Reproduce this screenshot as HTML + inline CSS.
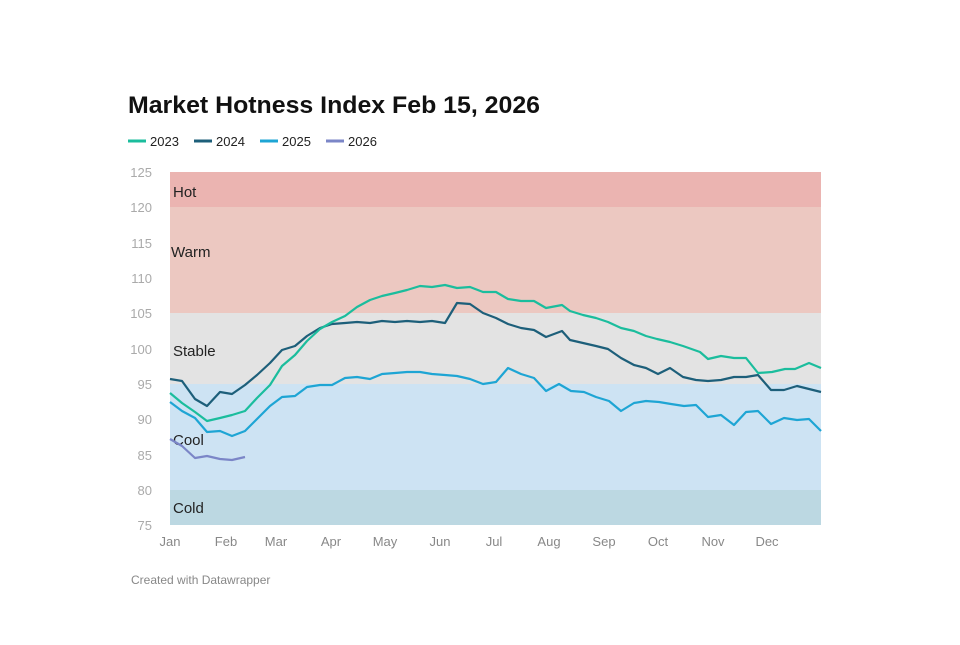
<!DOCTYPE html><html><head><style>body{margin:0;background:#fff;width:960px;height:640px;overflow:hidden}svg text{font-family:"Liberation Sans",sans-serif}</style></head><body>
<svg width="960" height="640" xmlns="http://www.w3.org/2000/svg">
<text x="128" y="113" font-size="24" font-weight="bold" fill="#111" textLength="412" lengthAdjust="spacingAndGlyphs">Market Hotness Index Feb 15, 2026</text>
<g font-size="13" fill="#222">
<line x1="128" y1="141" x2="146" y2="141" stroke="#1bbd9d" stroke-width="3"/><text x="150" y="146">2023</text>
<line x1="194" y1="141" x2="212" y2="141" stroke="#1d5f7a" stroke-width="3"/><text x="216" y="146">2024</text>
<line x1="260" y1="141" x2="278" y2="141" stroke="#1ea5d4" stroke-width="3"/><text x="282" y="146">2025</text>
<line x1="326" y1="141" x2="344" y2="141" stroke="#7b86c7" stroke-width="3"/><text x="348" y="146">2026</text>
</g>
<rect x="170" y="172" width="651" height="35" fill="#ebb4b1"/>
<rect x="170" y="207" width="651" height="106" fill="#ecc8c1"/>
<rect x="170" y="313" width="651" height="71" fill="#e3e3e3"/>
<rect x="170" y="384" width="651" height="106" fill="#cde3f3"/>
<rect x="170" y="490" width="651" height="35" fill="#bcd8e2"/>
<g font-size="15" fill="#222"><text x="173" y="197">Hot</text><text x="171" y="257">Warm</text><text x="173" y="356">Stable</text><text x="173" y="445">Cool</text><text x="173" y="513">Cold</text></g>
<g font-size="13" fill="#aaa" text-anchor="end">
<text x="152" y="177">125</text><text x="152" y="212">120</text><text x="152" y="248">115</text><text x="152" y="283">110</text><text x="152" y="318">105</text><text x="152" y="354">100</text><text x="152" y="389">95</text><text x="152" y="424">90</text><text x="152" y="460">85</text><text x="152" y="495">80</text><text x="152" y="530">75</text></g>
<g font-size="13" fill="#888" text-anchor="middle">
<text x="170" y="546">Jan</text><text x="226" y="546">Feb</text><text x="276" y="546">Mar</text><text x="331" y="546">Apr</text><text x="385" y="546">May</text><text x="440" y="546">Jun</text><text x="494" y="546">Jul</text><text x="549" y="546">Aug</text><text x="604" y="546">Sep</text><text x="658" y="546">Oct</text><text x="713" y="546">Nov</text><text x="767" y="546">Dec</text></g>
<g fill="none" stroke-width="2.2" stroke-linejoin="round">
<polyline stroke="#1ea5d4" points="170,402 182,411 195,418 207,432 220,431 232,436 245,431 257,419 270,406 282,397 295,396 307,387 320,385 332,385 345,378 357,377 370,379 382,374 395,373 407,372 420,372 432,374 445,375 457,376 470,379 483,384 496,382 508,368 521,374 534,378 546,391 559,384 571,391 584,392 596,397 609,401 621,411 634,403 646,401 659,402 671,404 684,406 696,405 708,417 721,415 734,425 746,412 758,411 771,424 784,418 797,420 809,419 821,431"/>
<polyline stroke="#1d5f7a" points="170,379 182,381 195,399 207,406 220,392 232,394 245,385 257,375 270,363 282,350 295,346 307,336 320,328 332,324 345,323 357,322 370,323 382,321 395,322 407,321 420,322 432,321 445,323 457,303 470,304 483,313 496,318 508,324 521,328 534,330 546,337 562,331 570,340 583,343 596,346 608,349 621,358 634,365 646,368 658,374 670,368 683,377 696,380 708,381 721,380 734,377 746,377 758,375 771,390 784,390 797,386 809,389 821,392"/>
<polyline stroke="#1bbd9d" points="170,393 182,403 195,412 207,421 220,418 232,415 245,411 257,398 270,385 282,366 295,355 307,341 320,329 332,322 345,316 357,307 370,300 382,296 395,293 407,290 420,286 432,287 445,285 457,288 470,287 483,292 496,292 508,299 521,301 534,301 546,308 562,305 570,311 583,315 596,318 608,322 621,328 634,331 646,336 657,339 670,342 683,346 700,352 708,359 721,356 734,358 746,358 758,373 772,372 785,369 795,369 809,363 821,368"/>
<polyline stroke="#7b86c7" points="170,439 182,446 195,458 207,456 220,459 232,460 245,457"/>
</g>
<text x="131" y="584" font-size="12" fill="#888">Created with Datawrapper</text>
</svg></body></html>
